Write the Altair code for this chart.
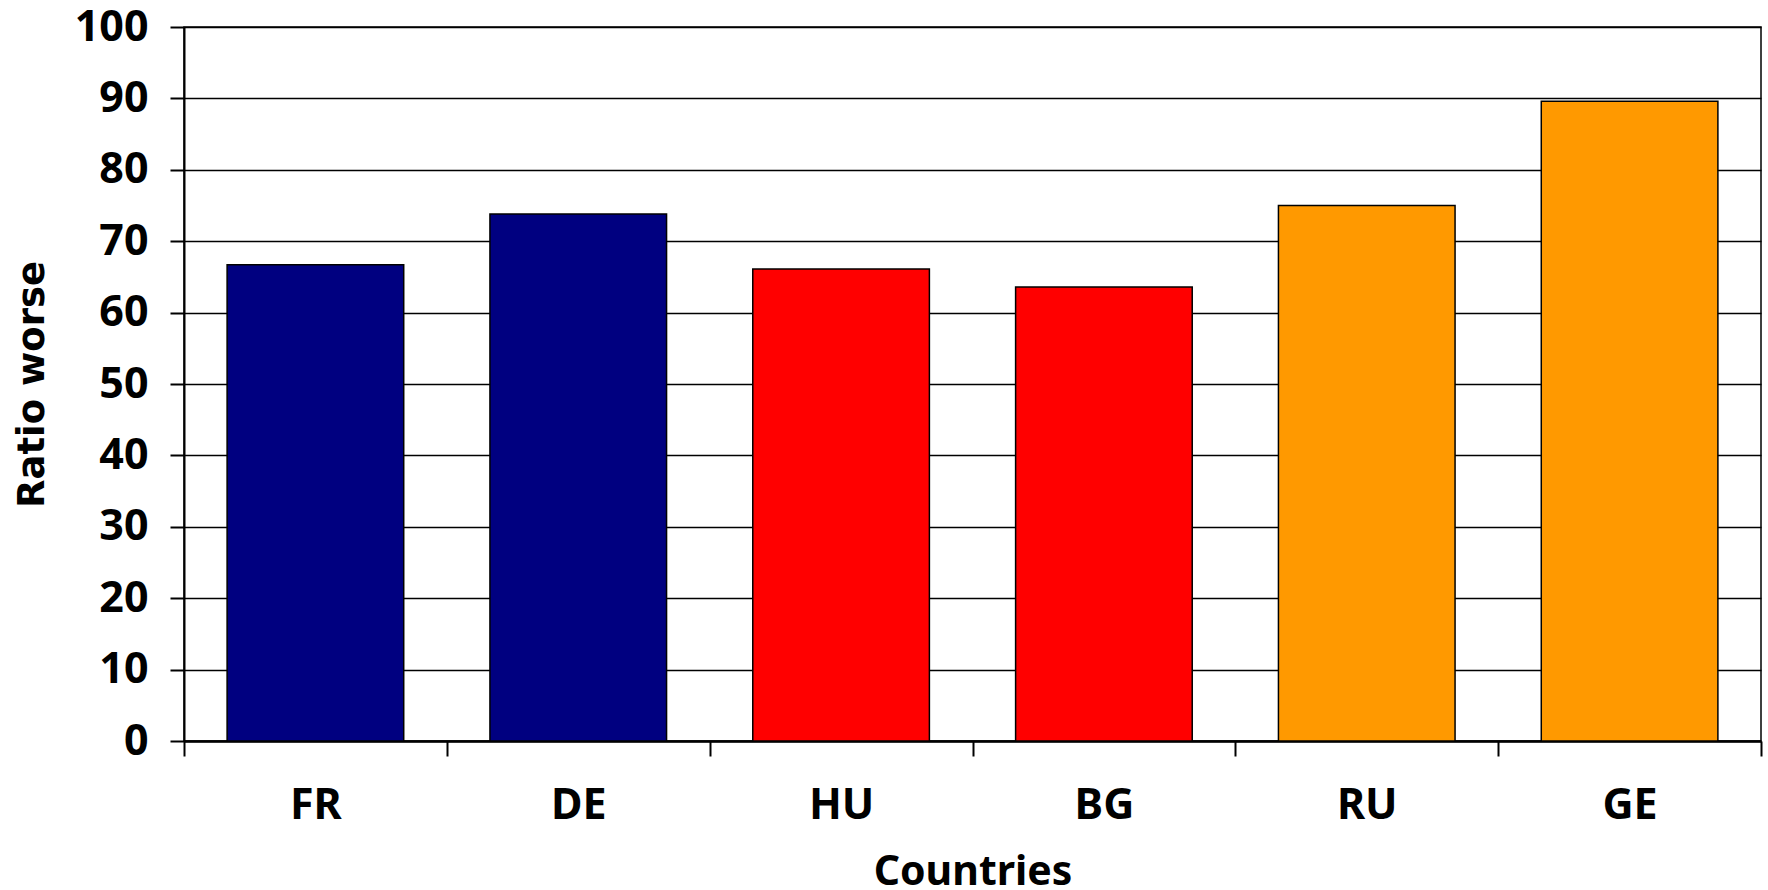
import altair as alt
import pandas as pd

# Share of respondents rating their situation as worse, by country
countries = ["FR", "DE", "HU", "BG", "RU", "GE"]
ratio_worse = [66.7, 73.8, 66.1, 63.6, 75.0, 89.6]
bar_colors = ["#000080", "#000080", "#FF0000", "#FF0000", "#FF9900", "#FF9900"]
y_ticks = [0, 10, 20, 30, 40, 50, 60, 70, 80, 90, 100]

df = pd.DataFrame({"country": countries, "ratio": ratio_worse, "fill": bar_colors})

FONT = "Noto Sans"

# Bands fill each category slot so the axis ticks fall on slot boundaries;
# the bars themselves take about two thirds of each slot.
bars = alt.Chart(df).mark_bar(
    stroke="black", strokeWidth=1.5, width=alt.RelativeBandSize(0.672)
).encode(
    x=alt.X(
        "country:N",
        sort=countries,
        title="Countries",
        scale=alt.Scale(paddingInner=0, paddingOuter=0),
        axis=alt.Axis(
            labelAngle=0,
            labelFont=FONT,
            labelFontSize=43,
            labelFontWeight="bold",
            labelColor="black",
            labelPadding=28,
            tickBand="extent",
            tickSize=15,
            tickWidth=2,
            tickColor="black",
            domainColor="black",
            domainWidth=2.5,
            titleFont=FONT,
            titleFontSize=41,
            titleFontWeight="bold",
            titleColor="black",
            titleBaseline="alphabetic",
            titleY=143,
        ),
    ),
    y=alt.Y(
        "ratio:Q",
        title="Ratio worse",
        scale=alt.Scale(domain=[0, 100], nice=False),
        axis=alt.Axis(
            values=y_ticks,
            labelFont=FONT,
            labelFontSize=43,
            labelFontWeight="bold",
            labelColor="black",
            labelPadding=22,
            tickSize=14,
            tickWidth=2,
            tickColor="black",
            domainColor="black",
            domainWidth=2,
            grid=True,
            gridColor="black",
            gridWidth=1.5,
            gridOpacity=1,
            titleFont="DejaVu Sans",
            titleFontSize=37,
            titleFontWeight="bold",
            titleColor="black",
            titleAngle=270,
            titleBaseline="alphabetic",
            titleX=-141,
        ),
    ),
    color=alt.Color("fill:N", scale=None, legend=None),
)

chart = bars.properties(
    width=1577,
    height=714,
    autosize=alt.AutoSizeParams(type="none"),
    padding={"left": 184, "top": 27, "right": 7, "bottom": 149},
    background="white",
).configure_view(stroke="black", strokeWidth=1.5)

chart.save("out.html", embed_options={"renderer": "svg", "actions": False})
